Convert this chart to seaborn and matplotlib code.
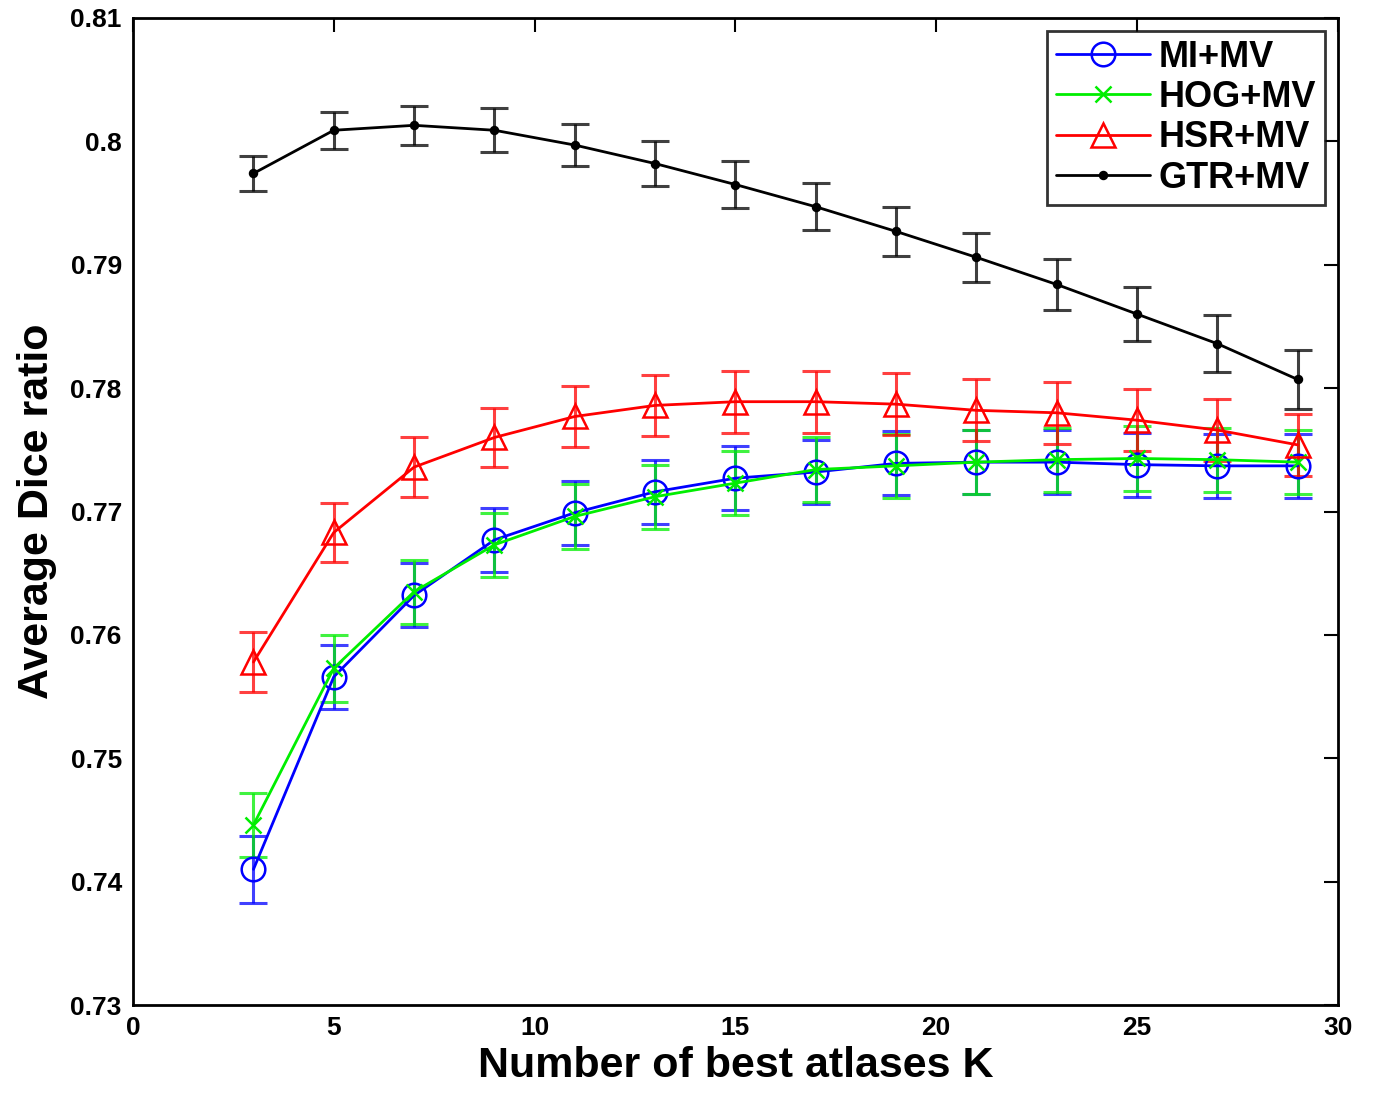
import numpy as np
import pandas as pd
import matplotlib
matplotlib.use("Agg")
import matplotlib.pyplot as plt
import seaborn as sns

K = [3, 5, 7, 9, 11, 13, 15, 17, 19, 21, 23, 25, 27, 29]
mi_mv = [0.7410, 0.7566, 0.7632, 0.7677, 0.7699, 0.7716, 0.7727, 0.7732, 0.7739, 0.7740, 0.7740, 0.7738, 0.7737, 0.7737]
mi_err = [0.0027, 0.0026, 0.0026, 0.0026, 0.0026, 0.0026, 0.0026, 0.0026, 0.0026, 0.0026, 0.0026, 0.0026, 0.0026, 0.0026]
hog_mv = [0.7446, 0.7573, 0.7635, 0.7673, 0.7696, 0.7712, 0.7723, 0.7734, 0.7737, 0.7740, 0.7742, 0.7743, 0.7742, 0.7740]
hog_err = [0.0026, 0.0027, 0.0026, 0.0026, 0.0026, 0.0026, 0.0026, 0.0026, 0.0026, 0.0026, 0.0026, 0.0026, 0.0026, 0.0026]
hsr_mv = [0.7578, 0.7683, 0.7736, 0.7760, 0.7777, 0.7786, 0.7789, 0.7789, 0.7787, 0.7782, 0.7780, 0.7774, 0.7766, 0.7754]
hsr_err = [0.0024, 0.0024, 0.0024, 0.0024, 0.0025, 0.0025, 0.0025, 0.0025, 0.0025, 0.0025, 0.0025, 0.0025, 0.0025, 0.0025]
gtr_mv = [0.7974, 0.8009, 0.8013, 0.8009, 0.7997, 0.7982, 0.7965, 0.7947, 0.7927, 0.7906, 0.7884, 0.7860, 0.7836, 0.7807]
gtr_err = [0.0014, 0.0015, 0.0016, 0.0018, 0.0017, 0.0018, 0.0019, 0.0019, 0.0020, 0.0020, 0.0021, 0.0022, 0.0023, 0.0024]

labels = ["MI+MV", "HOG+MV", "HSR+MV", "GTR+MV"]
values = [mi_mv, hog_mv, hsr_mv, gtr_mv]
errors = [mi_err, hog_err, hsr_err, gtr_err]
colors = ["#0000ff", "#00ee00", "#ff0000", "#000000"]
markers = ["o", "x", "^", "o"]
msizes = [17, 11, 17, 5]
mfc = ["none", "none", "none", "#000000"]
x_ticks = [0, 5, 10, 15, 20, 25, 30]
y_ticks = [0.73, 0.74, 0.75, 0.76, 0.77, 0.78, 0.79, 0.80, 0.81]
y_ticklabels = ["0.73", "0.74", "0.75", "0.76", "0.77", "0.78", "0.79", "0.8", "0.81"]

sns.set_style("white")
plt.rcParams['font.family'] = ['Liberation Sans Narrow', 'Liberation Sans', 'DejaVu Sans']
plt.rcParams['font.weight'] = 'bold'
plt.rcParams['text.color'] = 'black'
plt.rcParams['axes.labelcolor'] = 'black'
plt.rcParams['xtick.color'] = 'black'
plt.rcParams['ytick.color'] = 'black'

fig = plt.figure(figsize=(13.75, 10.96), dpi=100)
ax = fig.add_axes([0.0967, 0.083, 0.8763, 0.9006])

rows = []
for lab, vals in zip(labels, values):
    for k, v in zip(K, vals):
        rows.append({"K": k, "dice": v, "method": lab})
df = pd.DataFrame(rows)

for lab, vals, errs, c, m, ms, fc in zip(labels, values, errors, colors, markers, msizes, mfc):
    ax.errorbar(K, vals, yerr=errs, fmt="none", ecolor=c, elinewidth=2.2,
                capsize=10, capthick=2.2, alpha=0.75, zorder=2)
    sns.lineplot(data=df[df["method"] == lab], x="K", y="dice", ax=ax, color=c,
                 marker=m, markersize=ms, markerfacecolor=fc, markeredgecolor=c,
                 markeredgewidth=1.8, linewidth=2.0, label=lab, zorder=3,
                 errorbar=None)

ax.set_xlim(0, 30)
ax.set_ylim(0.73, 0.81)
ax.set_xticks(x_ticks)
ax.set_xticklabels([str(t) for t in x_ticks])
ax.set_yticks(y_ticks)
ax.set_yticklabels(y_ticklabels)
ax.tick_params(direction="in", length=10, width=1.5, top=True, right=True,
               labelsize=19, pad=8, colors="black")
for lbl in ax.get_xticklabels() + ax.get_yticklabels():
    lbl.set_fontweight("bold")
for sp in ax.spines.values():
    sp.set_linewidth(2.0)
    sp.set_color("black")

ax.set_xlabel("Number of best atlases K", fontsize=31, fontweight="bold", labelpad=4, color="black")
ax.set_ylabel("Average Dice ratio", fontsize=31, fontweight="bold", labelpad=10, color="black")

leg = ax.legend(loc="upper right", fontsize=26, frameon=True, fancybox=False,
                edgecolor="black", borderpad=0.25, labelspacing=0.15,
                handlelength=2.6, handletextpad=0.25, borderaxespad=0.35)
leg.get_frame().set_linewidth(2.0)
for t in leg.get_texts():
    t.set_fontweight("bold")
    t.set_color("black")

fig.savefig("out.png", dpi=100)
